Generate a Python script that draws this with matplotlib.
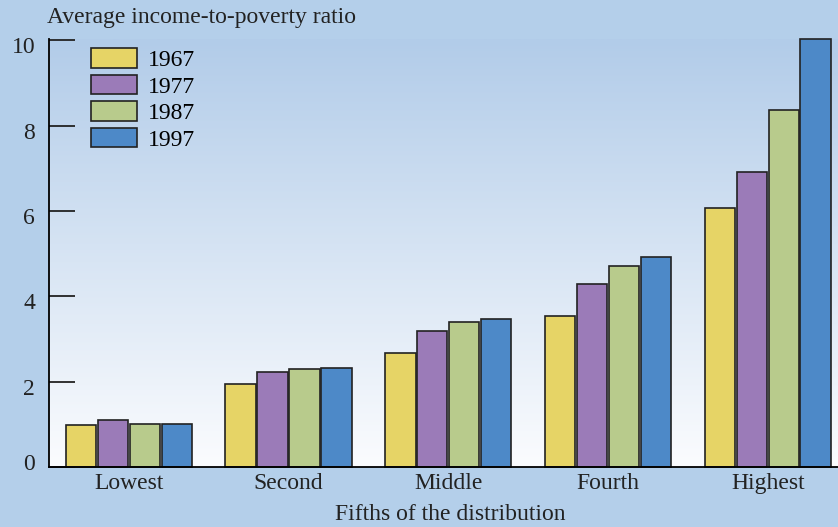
import numpy as np
import matplotlib.pyplot as plt
from matplotlib.colors import LinearSegmentedColormap

plt.rcParams['font.family'] = ['Liberation Serif', 'DejaVu Serif']

# fifths of the distribution and the income-to-poverty ratio per year
groups = ['Lowest', 'Second', 'Middle', 'Fourth', 'Highest']
years = ['1967', '1977', '1987', '1997']
r1967 = [0.98, 1.95, 2.67, 3.53, 6.06]
r1977 = [1.10, 2.22, 3.18, 4.28, 6.91]
r1987 = [1.00, 2.29, 3.39, 4.70, 8.36]
r1997 = [1.00, 2.32, 3.46, 4.93, 10.02]
yticks = [0, 2, 4, 6, 8, 10]
colors = ['#e6d466', '#9b7bb8', '#b8cb8c', '#4d89c8']

fs = 17
ink = '#222222'
fig = plt.figure(figsize=(8.38, 5.27), dpi=100, facecolor='#b4cfea')
ax = fig.add_axes([49 / 838, 1 - 467 / 527, 1 - 49 / 838, (467 - 39) / 527])

# background gradient, light blue at top fading to white at the axis
grad = LinearSegmentedColormap.from_list('bg', ['#fbfcfe', '#b2cce9'])
ax.imshow(np.linspace(0, 1, 256).reshape(-1, 1), cmap=grad, origin='lower',
          aspect='auto', extent=(-0.5, 4.44, 0, 10.03), zorder=0)

x = np.arange(len(groups))
w = 0.19
for i, (vals, yr) in enumerate(zip([r1967, r1977, r1987, r1997], years)):
    ax.bar(x + (i - 1.5) * 0.2, vals, width=w, color=colors[i],
           edgecolor=ink, linewidth=1.2, label=yr, zorder=2,
           clip_on=False)

ax.set_xlim(-0.5, 4.44)
ax.set_ylim(0, 10.03)
ax.set_yticks(yticks)
ax.set_yticklabels([])
ax.set_xticks(x)
ax.set_xticklabels(groups)
ax.tick_params(axis='y', direction='in', length=19, width=1.3, colors=ink)
ax.tick_params(axis='x', length=0, labelsize=fs, pad=4, colors=ink)
ax.spines['top'].set_visible(False)
ax.spines['right'].set_visible(False)
ax.spines['left'].set_linewidth(1.3)
ax.spines['bottom'].set_linewidth(1.3)
ax.set_facecolor('none')

# y tick labels sit a little below their ticks, the 0 a little above
for v in yticks:
    dy = -2.2 if v == 0 else -9.4
    ax.annotate(str(v), xy=(0, v), xycoords=('axes fraction', 'data'),
                xytext=(-10, dy), textcoords='offset points',
                ha='right', va='baseline', fontsize=fs, color=ink,
                annotation_clip=False)

ax.set_xlabel('Fifths of the distribution', fontsize=fs, color=ink)
ax.xaxis.set_label_coords(0.508, -0.086)
ax.xaxis.label.set_verticalalignment('top')
fig.text(47 / 838, 1 - 18 / 527, 'Average income-to-poverty ratio',
         fontsize=fs, color=ink, va='center', ha='left')

leg = ax.legend(loc='upper left', bbox_to_anchor=(0.053, 0.978), frameon=False,
                fontsize=fs, handlelength=1.95, handleheight=0.9,
                handletextpad=0.45, labelspacing=0.15, borderaxespad=0,
                borderpad=0)

fig.savefig('out.png', dpi=100, facecolor=fig.get_facecolor())
